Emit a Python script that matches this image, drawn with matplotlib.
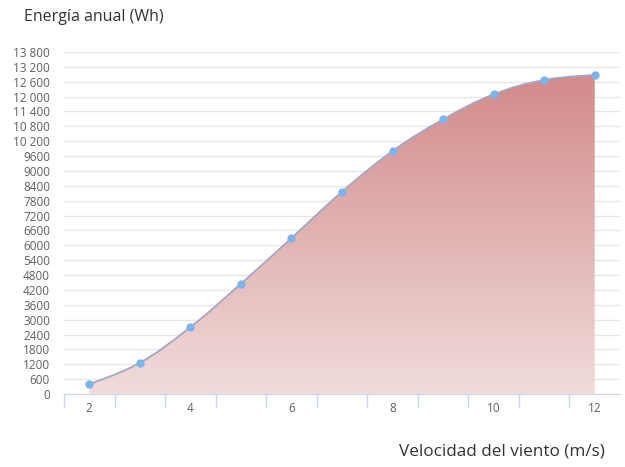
import numpy as np
import matplotlib
matplotlib.use("Agg")
import matplotlib.pyplot as plt
from matplotlib.path import Path
from matplotlib.patches import PathPatch
from matplotlib.colors import LinearSegmentedColormap

plt.rcParams['font.family'] = ['Open Sans', 'DejaVu Sans']

#%% Data
wind_speed = [2, 3, 4, 5, 6, 7, 8, 9, 10, 11, 12]
energy = [400, 1260, 2700, 4450, 6290, 8160, 9800, 11080, 12090, 12670, 12870]
y_ticks = list(range(0, 13801, 600))
x_ticks = [2, 4, 6, 8, 10, 12]

title_text = "Energía anual (Wh)"
xlabel_text = "Velocidad del viento (m/s)"

#%% Spline (highcharts style control points)
def spline_path(xs, ys, smoothing=1.5):
	denom = smoothing + 1
	verts = [(xs[0], ys[0])]
	codes = [Path.MOVETO]
	n = len(xs)
	conts = []
	for i in range(n):
		if i == 0 or i == n - 1:
			conts.append(((xs[i], ys[i]), (xs[i], ys[i])))
			continue
		lx = (smoothing * xs[i] + xs[i - 1]) / denom
		ly = (smoothing * ys[i] + ys[i - 1]) / denom
		rx = (smoothing * xs[i] + xs[i + 1]) / denom
		ry = (smoothing * ys[i] + ys[i + 1]) / denom
		corr = (ry - ly) * (rx - xs[i]) / (rx - lx) + ys[i] - ry
		ly += corr
		ry += corr
		if ly > max(ys[i - 1], ys[i]):
			ly = max(ys[i - 1], ys[i]); ry = 2 * ys[i] - ly
		elif ly < min(ys[i - 1], ys[i]):
			ly = min(ys[i - 1], ys[i]); ry = 2 * ys[i] - ly
		if ry > max(ys[i + 1], ys[i]):
			ry = max(ys[i + 1], ys[i]); ly = 2 * ys[i] - ry
		elif ry < min(ys[i + 1], ys[i]):
			ry = min(ys[i + 1], ys[i]); ly = 2 * ys[i] - ry
		conts.append(((lx, ly), (rx, ry)))
	for i in range(1, n):
		verts += [conts[i - 1][1], conts[i][0], (xs[i], ys[i])]
		codes += [Path.CURVE4] * 3
	return verts, codes

verts, codes = spline_path(wind_speed, energy)

#%% Figure
fig = plt.figure(figsize=(6.25, 4.67), dpi=100)
ax = fig.add_axes([0.1024, 0.1563, 0.8896, 0.7324])
ax.set_xlim(1.5, 12.5)
ax.set_ylim(0, 13800)

# area with vertical gradient
fill_verts = verts + [(wind_speed[-1], 0), (wind_speed[0], 0), (wind_speed[0], energy[0])]
fill_codes = codes + [Path.LINETO, Path.LINETO, Path.CLOSEPOLY]
patch = PathPatch(Path(fill_verts, fill_codes), facecolor='none', edgecolor='none')
ax.add_patch(patch)
cmap = LinearSegmentedColormap.from_list("area", ["#f0dcdb", "#d38a8a"])
grad = np.linspace(0, 1, 256).reshape(-1, 1)
img = ax.imshow(grad, cmap=cmap, origin='lower', aspect='auto',
	extent=[wind_speed[0], wind_speed[-1], 0, max(energy)], zorder=2)
img.set_clip_path(patch)

line = PathPatch(Path(verts, codes), facecolor='none', edgecolor='#a3a6c4', lw=1.3, zorder=3)
ax.add_patch(line)
ax.scatter(wind_speed, energy, s=36, color='#7cb5ec', zorder=4, linewidths=0)

# grid and axes
ax.set_yticks(y_ticks)
def fmt(v):
	return "{:,}".format(v).replace(",", " ") if v >= 10000 else str(v)
ax.set_yticklabels([fmt(v) for v in y_ticks])
ax.grid(axis='y', color='#e6e6e6', lw=1)
ax.set_axisbelow(True)
for side in ['top', 'right', 'left']:
	ax.spines[side].set_visible(False)
ax.spines['bottom'].set_color('#ccd6eb')
ax.tick_params(axis='y', length=0, pad=10, labelsize=8.5, labelcolor='#606060')

ax.set_xticks(x_ticks)
ax.set_xticks(np.arange(1.5, 12.0, 1), minor=True)
ax.tick_params(axis='x', which='major', length=0, pad=6, labelsize=8.5, labelcolor='#606060')
ax.tick_params(axis='x', which='minor', length=10, color='#ccd6eb', width=1)

fig.text(24 / 625, 1 - 17 / 467, title_text, fontsize=11.5, color='#333333', va='center', ha='left')
fig.text(605 / 625, 1 - 452 / 467, xlabel_text, fontsize=12.3, color='#333333', va='center', ha='right')

fig.savefig("out.png", dpi=100)
